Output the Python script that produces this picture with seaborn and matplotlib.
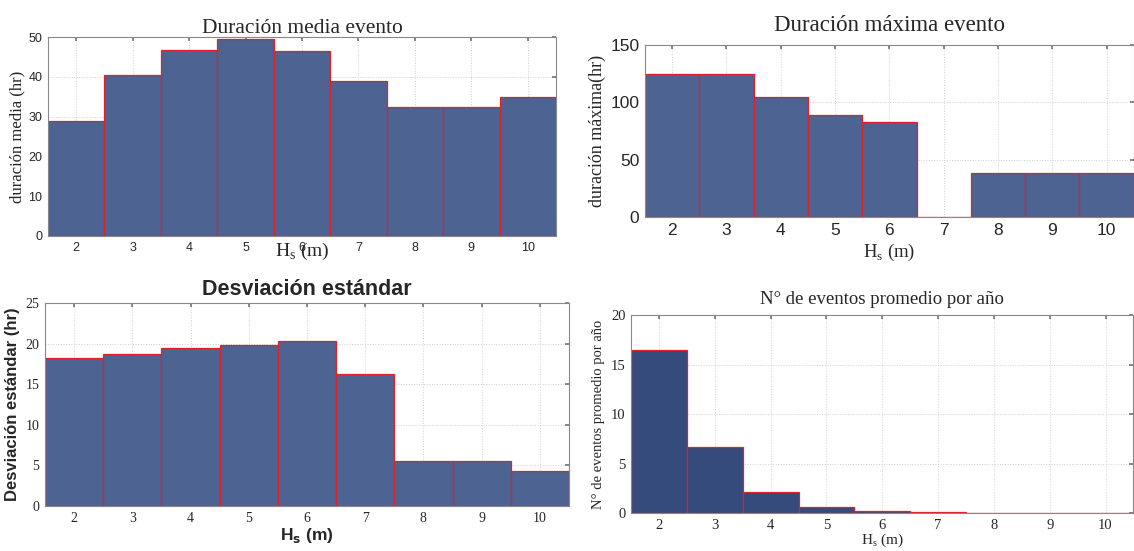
import numpy as np
import pandas as pd
import seaborn as sns
import matplotlib
matplotlib.use('Agg')
import matplotlib.pyplot as plt

# datos
hs = [2, 3, 4, 5, 6, 7, 8, 9, 10]
dur_media = [28.8, 40.5, 46.7, 49.4, 46.6, 38.9, 32.3, 32.3, 35.0]
dur_maxima = [125, 125, 105, 89, 83, 0, 38, 38, 38]
desv_std = [18.3, 18.8, 19.5, 19.9, 20.3, 16.3, 5.5, 5.5, 4.3]
n_eventos = [16.5, 6.7, 2.1, 0.6, 0.2, 0.05, 0.02, 0.01, 0.01]

sns.set_theme(style='white')
plt.rcParams['mathtext.fontset'] = 'custom'
plt.rcParams['mathtext.rm'] = 'Liberation Serif'

SERIF = 'Liberation Serif'
SANS = 'Liberation Sans'
BAR = '#4d6391'
BAR_DARK = '#354b7b'

fig = plt.figure(figsize=(11.34, 5.51), dpi=100)


def panel(rect, vals, color, ymax, yticks, tick_font, tick_size):
    ax = fig.add_axes(rect)
    df = pd.DataFrame({'hs': hs, 'v': vals})
    sns.barplot(data=df, x='hs', y='v', ax=ax, width=1, color=color,
                saturation=1, edgecolor='#e0202a', linewidth=0.9)
    ax.set_xlim(-0.5, 8.5)
    ax.set_ylim(0, ymax)
    ax.set_yticks(yticks)
    ax.grid(True, color='#d0d0d0', linestyle=':', linewidth=0.7)
    ax.set_axisbelow(True)
    ax.tick_params(direction='in', top=True, right=True, length=3,
                   color='#777777', labelsize=tick_size, pad=4)
    for lab in ax.get_xticklabels() + ax.get_yticklabels():
        lab.set_fontfamily(tick_font)
    for s in ax.spines.values():
        s.set_color('#888888')
        s.set_linewidth(0.8)
    return ax


# 1 - duracion media
ax1 = panel([0.0423, 0.5717, 0.448, 0.361], dur_media, BAR, 50,
            [0, 10, 20, 30, 40, 50], SANS, 9)
ax1.set_title('Duración media evento', fontfamily=SERIF, fontsize=15.5, pad=3)
ax1.set_ylabel('duración media (hr)', fontfamily=SERIF, fontsize=12, labelpad=2)
ax1.set_xlabel(r'H$_\mathregular{s}$ (m)', fontfamily=SERIF, fontsize=14, labelpad=-9)

# 2 - duracion maxima
ax2 = panel([0.5688, 0.6062, 0.431, 0.312], dur_maxima, BAR, 150,
            [0, 50, 100, 150], SANS, 12.5)
ax2.set_title('Duración máxima evento', fontfamily=SERIF, fontsize=16.5, pad=10)
ax2.set_ylabel('duración máxima(hr)', fontfamily=SERIF, fontsize=13, labelpad=3)
ax2.set_xlabel(r'H$_\mathregular{s}$ (m)', fontfamily=SERIF, fontsize=13.5, labelpad=3)

# 3 - desviacion estandar
ax3 = panel([0.0397, 0.0817, 0.462, 0.368], desv_std, BAR, 25,
            [0, 5, 10, 15, 20, 25], SERIF, 10)
ax3.set_title('Desviación estándar', fontfamily=SANS, fontsize=15.5,
              fontweight='bold', pad=6)
ax3.set_ylabel('Desviación estándar (hr)', fontfamily=SANS, fontsize=12,
               fontweight='bold', labelpad=4)
ax3.set_xlabel(r'H$_\mathbf{s}$ (m)', fontfamily=SANS, fontsize=12.5,
               fontweight='bold', labelpad=1)

# 4 - numero de eventos por año
ax4 = panel([0.5565, 0.0690, 0.443, 0.359], n_eventos, BAR_DARK, 20,
            [0, 5, 10, 15, 20], SERIF, 10.5)
ax4.set_title('N° de eventos promedio por año', fontfamily=SERIF, fontsize=13.5, pad=8)
ax4.set_ylabel('N° de eventos promedio por año', fontfamily=SERIF, fontsize=10.5, labelpad=4)
ax4.set_xlabel(r'H$_\mathregular{s}$ (m)', fontfamily=SERIF, fontsize=11, labelpad=0)

fig.savefig('out.png', dpi=100)
